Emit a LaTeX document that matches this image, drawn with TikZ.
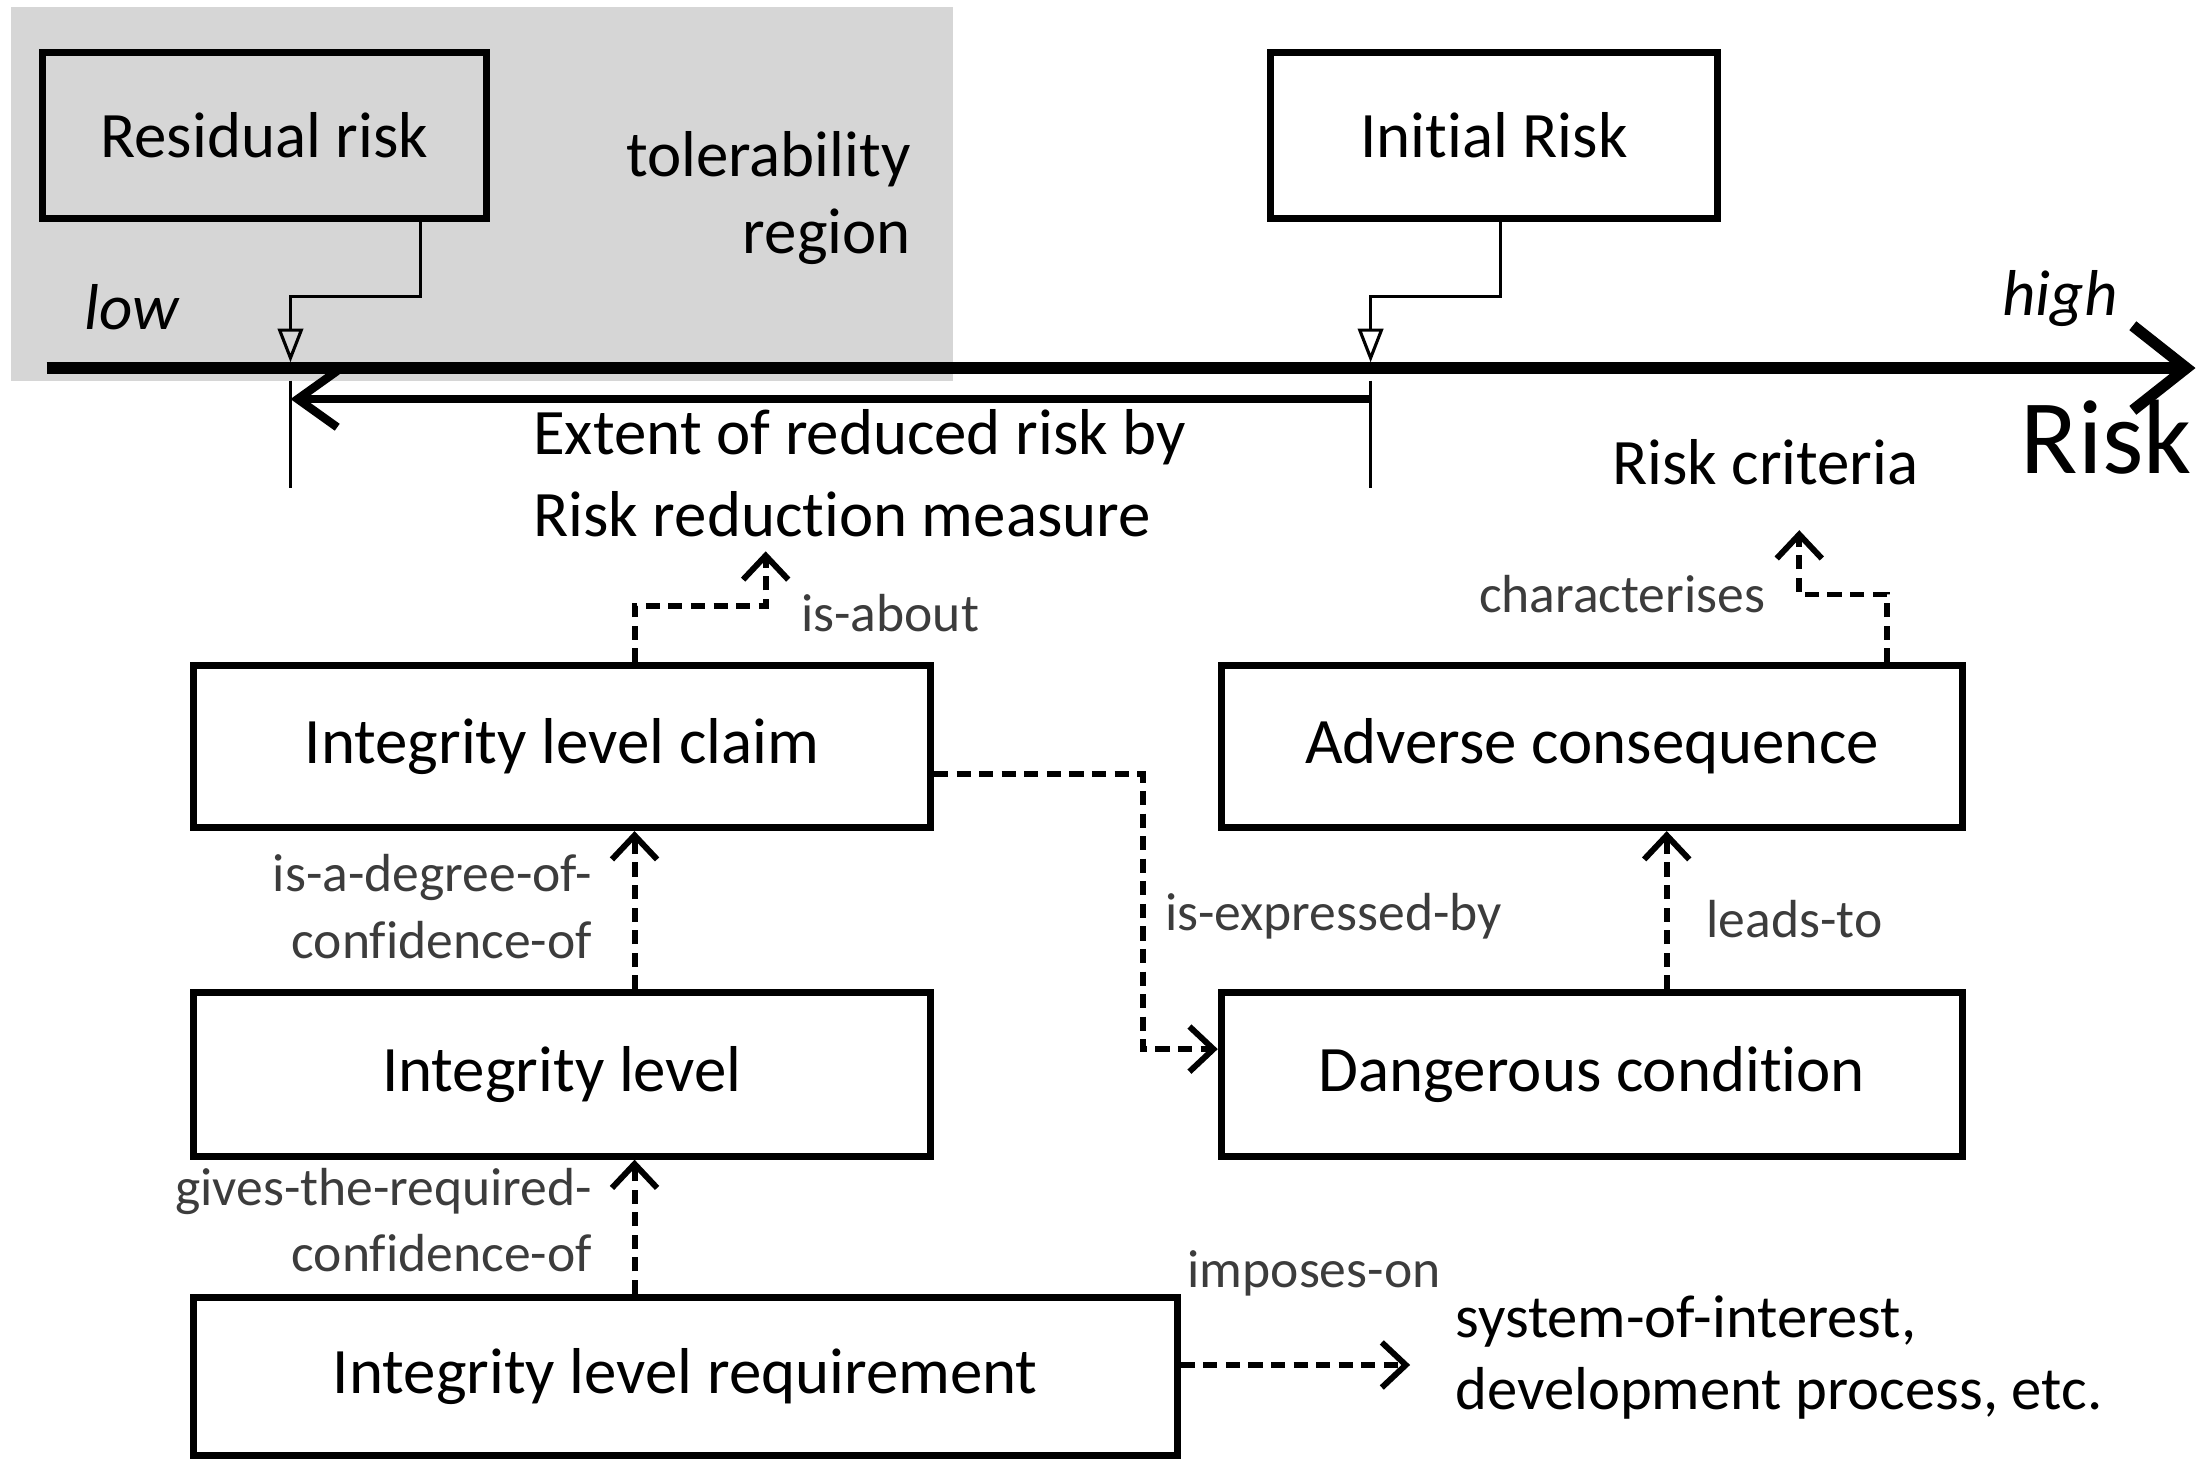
\documentclass[tikz,border=0pt]{standalone}
\usepackage{fontspec}
\setmainfont{Carlito}[Ligatures=NoCommon]
\usetikzlibrary{arrows.meta}
\definecolor{lblgray}{HTML}{3C3C3C}
\begin{document}
\begin{tikzpicture}[x=1pt,y=-1pt,
  box/.style={draw=black, line width=4.8pt, fill=white, inner sep=0pt, font=\fontsize{46}{52}\selectfont},
  bigtext/.style={inner sep=0pt, font=\fontsize{46}{55}\selectfont},
  lbl/.style={inner sep=0pt, text=lblgray, font=\fontsize{38}{45}\selectfont},
  rel/.style={line width=4.2pt, dash pattern=on 10pt off 6pt, -{Straight Barb[length=17pt,width=32pt,line width=4.2pt]}},
  ptr/.style={line width=2.2pt, -{Triangle[open,length=24pt,width=18pt,line width=2.2pt]}},
  tick/.style={line width=2.2pt}
]
\useasboundingbox (0,0) rectangle (1568,1035);
% tolerability region
\fill[black!16] (8,5) rectangle (676,270);
\node[bigtext, anchor=east] (tol1) at (646,113) {tolerability};
\node[bigtext, anchor=east] (tol2) at (646,168) {region};
\node[bigtext, anchor=west, font=\fontsize{46}{55}\selectfont\itshape] (low) at (60,218) {low};
\node[bigtext, anchor=west, font=\fontsize{46}{55}\selectfont\itshape] (high) at (1420,212) {high};

% boxes
\node[box, minimum width=315pt, minimum height=118pt, fill=none] (res) at (187.5,96) {Residual risk};
\node[box, minimum width=317pt, minimum height=118pt] (init) at (1059.5,96) {Initial Risk};
\node[box, minimum width=523pt, minimum height=115pt] (claim) at (398.5,529.5) {Integrity level claim};
\node[box, minimum width=523pt, minimum height=116pt] (lev) at (398.5,762) {Integrity level};
\node[box, minimum width=698pt, minimum height=112pt] (req) at (486,976) {Integrity level requirement};
\node[box, minimum width=526pt, minimum height=115pt] (adv) at (1129,529.5) {Adverse consequence};
\node[box, minimum width=526pt, minimum height=116pt] (dang) at (1129,762) {Dangerous condition};

% axis
\coordinate (axL) at (33,261);
\coordinate (axR) at (1557,261);
\draw[line width=8pt, -{Straight Barb[length=38pt,width=60pt,line width=8pt]}] (axL) -- (axR);
\node[inner sep=0pt, anchor=west, font=\fontsize{75}{80}\selectfont] (risk) at (1433,310) {Risk};

% reduction extent arrow
\coordinate (lowpt) at (206,257);
\coordinate (highpt) at (972,257);
\coordinate (extR) at (972,283);
\coordinate (extL) at (206,283);
\draw[line width=6pt, -{Straight Barb[length=28pt,width=40pt,line width=6pt]}] (extR) -- (extL);
\coordinate (t1a) at (206,270); \coordinate (t1b) at (206,346);
\coordinate (t2a) at (972,270); \coordinate (t2b) at (972,346);
\draw[tick] (t1a) -- (t1b);
\draw[tick] (t2a) -- (t2b);
\node[bigtext, anchor=west] (ext1) at (378,310) {Extent of reduced risk by};
\node[bigtext, anchor=west] (ext2) at (378,365) {Risk reduction measure};
\node[bigtext, anchor=west] (crit) at (1143,328) {Risk criteria};

% pointers
\draw[ptr] ([xshift=110.5pt]res.south) -- ++(0,53) -| (lowpt);
\draw[ptr] ([xshift=4.5pt]init.south) -- ++(0,53) -| (highpt);

% relations
\coordinate (aboutEnd) at (543,391);
\draw[rel] ([xshift=51.5pt]claim.north) -- ++(0,-40) -| (aboutEnd);
\node[lbl, anchor=west] (lab1) at (568,435) {is-about};

\draw[rel] ([xshift=51.5pt]lev.north) -- ([xshift=51.5pt]claim.south);
\node[lbl, anchor=east] (lab2a) at (420,622) {is-a-degree-of-};
\node[lbl, anchor=east] (lab2b) at (420,667) {confidence-of};

\draw[rel] ([xshift=-36pt]req.north) -- ([xshift=51.5pt]lev.south);
\node[lbl, anchor=east] (lab3a) at (420,845) {gives-the-required-};
\node[lbl, anchor=east] (lab3b) at (420,889) {confidence-of};

\draw[rel] ([yshift=-19.5pt]claim.east) -- ++(148,0) |- ([yshift=18pt]dang.west);
\node[lbl, anchor=west] (lab4) at (826,650) {is-expressed-by};

\draw[rel] ([xshift=53pt]dang.north) -- ([xshift=53pt]adv.south);
\node[lbl, anchor=west] (lab5) at (1210,652) {leads-to};

\coordinate (critEnd) at (1276,376);
\draw[rel] ([xshift=209pt]adv.north) -- ++(0,-48) -| (critEnd);
\node[lbl, anchor=east] (lab6) at (1252,421) {characterises};

\node[bigtext, anchor=west, font=\fontsize{43}{50}\selectfont] (sys1) at (1032,937) {system-of-interest,};
\node[bigtext, anchor=west, font=\fontsize{43}{50}\selectfont] (sys2) at (1032,988) {development process, etc.};
\coordinate (sysEnd) at (1000,968);
\draw[rel] ([yshift=8pt]req.east) -- (sysEnd);
\node[lbl, anchor=west] (lab7) at (842,903) {imposes-on};
\end{tikzpicture}
\end{document}
